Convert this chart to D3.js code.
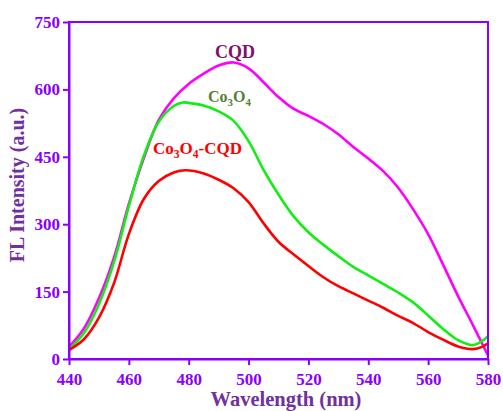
<!DOCTYPE html>
<html>
<head>
<meta charset="utf-8">
<script src="https://cdn.jsdelivr.net/npm/d3@7/dist/d3.min.js"></script>
<style>
  html, body { margin: 0; padding: 0; background: #fff; }
  svg { display: block; }
  text { font-family: "Liberation Serif", "Times New Roman", serif; font-weight: bold; }
</style>
</head>
<body>
<svg id="chart" width="503" height="411"></svg>
<script>
// Fluorescence emission spectra (wavelength in nm, intensity in a.u.)
const cqdWave = [440, 445, 450, 455, 460, 465, 470, 475, 480, 485, 490, 495, 500, 505, 510, 515, 520, 525, 530, 535, 540, 545, 550, 555, 560, 565, 570, 575, 580];
const cqdVals = [27, 68, 135, 225, 345, 447, 532, 580, 612, 635, 653, 660, 647, 616, 583, 557, 541, 523, 500, 472, 446, 418, 381, 333, 278, 210, 140, 75, 8];

const co3o4Wave = [440, 445, 450, 455, 460, 465, 470, 475, 478, 480, 485, 490, 495, 500, 505, 510, 515, 520, 525, 530, 535, 540, 545, 550, 555, 560, 565, 570, 575, 578, 580];
const co3o4Vals = [22, 58, 122, 215, 340, 452, 528, 563, 571, 570, 564, 551, 530, 485, 421, 366, 318, 282, 254, 229, 205, 186, 167, 148, 126, 97, 67, 42, 31, 40, 51];

const hybridWave = [440, 445, 450, 455, 460, 465, 470, 475, 479, 485, 490, 495, 500, 505, 510, 515, 520, 525, 530, 535, 540, 545, 550, 555, 560, 565, 570, 575, 578, 580];
const hybridVals = [20, 44, 92, 168, 278, 356, 396, 415, 420, 413, 399, 380, 349, 302, 261, 233, 207, 182, 162, 146, 130, 114, 96, 80, 60, 43, 28, 22, 27, 35];

const xTicks = [440, 460, 480, 500, 520, 540, 560, 580];
const yTicks = [0, 150, 300, 450, 600, 750];

const series = [
  { wave: cqdWave, vals: cqdVals, color: "#ff00ff" },
  { wave: co3o4Wave, vals: co3o4Vals, color: "#11ee11" },
  { wave: hybridWave, vals: hybridVals, color: "#ff0000" }
];

const axisColor = "#8a00ff";
const titleColor = "#7030a0";

const svg = d3.select("#chart");
const plotLeft = 69, plotRight = 488, plotTop = 22, plotBottom = 359;

const x = d3.scaleLinear().domain([440, 580]).range([plotLeft, plotRight]);
const y = d3.scaleLinear().domain([0, 750]).range([plotBottom, plotTop]);

// Curves
const line = d3.line()
  .x(d => x(d[0]))
  .y(d => y(d[1]))
  .curve(d3.curveCatmullRom.alpha(0.5));

const plot = svg.append("g");
series.forEach(s => {
  plot.append("path")
    .datum(s.wave.map((w, i) => [w, s.vals[i]]))
    .attr("fill", "none")
    .attr("stroke", s.color)
    .attr("stroke-width", 2.6)
    .attr("stroke-linejoin", "round")
    .attr("d", line);
});

// Frame
svg.append("rect")
  .attr("x", plotLeft).attr("y", plotTop)
  .attr("width", plotRight - plotLeft).attr("height", plotBottom - plotTop)
  .attr("fill", "none")
  .attr("stroke", axisColor)
  .attr("stroke-width", 2);

// Axes
const xAxis = svg.append("g")
  .attr("transform", `translate(0,${plotBottom})`)
  .call(d3.axisBottom(x).tickValues(xTicks).tickSize(6).tickPadding(8).tickSizeOuter(0));
const yAxis = svg.append("g")
  .attr("transform", `translate(${plotLeft},0)`)
  .call(d3.axisLeft(y).tickValues(yTicks).tickSize(6).tickPadding(3).tickSizeOuter(0));

[xAxis, yAxis].forEach(g => {
  g.select(".domain").attr("stroke", axisColor).attr("stroke-width", 2);
  g.selectAll(".tick line").attr("stroke", axisColor).attr("stroke-width", 2);
  g.selectAll(".tick text")
    .attr("fill", axisColor)
    .style("font-family", "'Liberation Serif', 'Times New Roman', serif")
    .style("font-weight", "bold")
    .style("font-size", "17px");
});

// Axis titles
svg.append("text")
  .attr("x", 286).attr("y", 406)
  .attr("text-anchor", "middle")
  .attr("fill", titleColor)
  .style("font-size", "20.5px")
  .text("Wavelength (nm)");

svg.append("text")
  .attr("transform", "translate(24,185) rotate(-90)")
  .attr("text-anchor", "middle")
  .attr("fill", titleColor)
  .style("font-size", "20px")
  .text("FL Intensity (a.u.)");

// Curve labels
svg.append("text")
  .attr("x", 235).attr("y", 58)
  .attr("text-anchor", "middle")
  .attr("fill", "#80106a")
  .style("font-size", "18px")
  .text("CQD");

// Chemical formula label with subscripted digits
function formula(g, xPos, yPos, parts, color, size) {
  const t = g.append("text")
    .attr("x", xPos).attr("y", yPos)
    .attr("fill", color)
    .style("font-size", size + "px");
  let shift = 0;
  parts.forEach(p => {
    const target = p.sub ? 4 : 0;
    t.append("tspan")
      .attr("dy", target - shift)
      .style("font-size", p.sub ? (size * 0.68) + "px" : null)
      .text(p.t);
    shift = target;
  });
  return t;
}

formula(svg, 208, 102, [{ t: "Co" }, { t: "3", sub: true }, { t: "O" }, { t: "4", sub: true }], "#548235", 16);
formula(svg, 153, 154, [{ t: "Co" }, { t: "3", sub: true }, { t: "O" }, { t: "4", sub: true }, { t: "-CQD" }], "#ff0000", 17);
</script>
</body>
</html>
